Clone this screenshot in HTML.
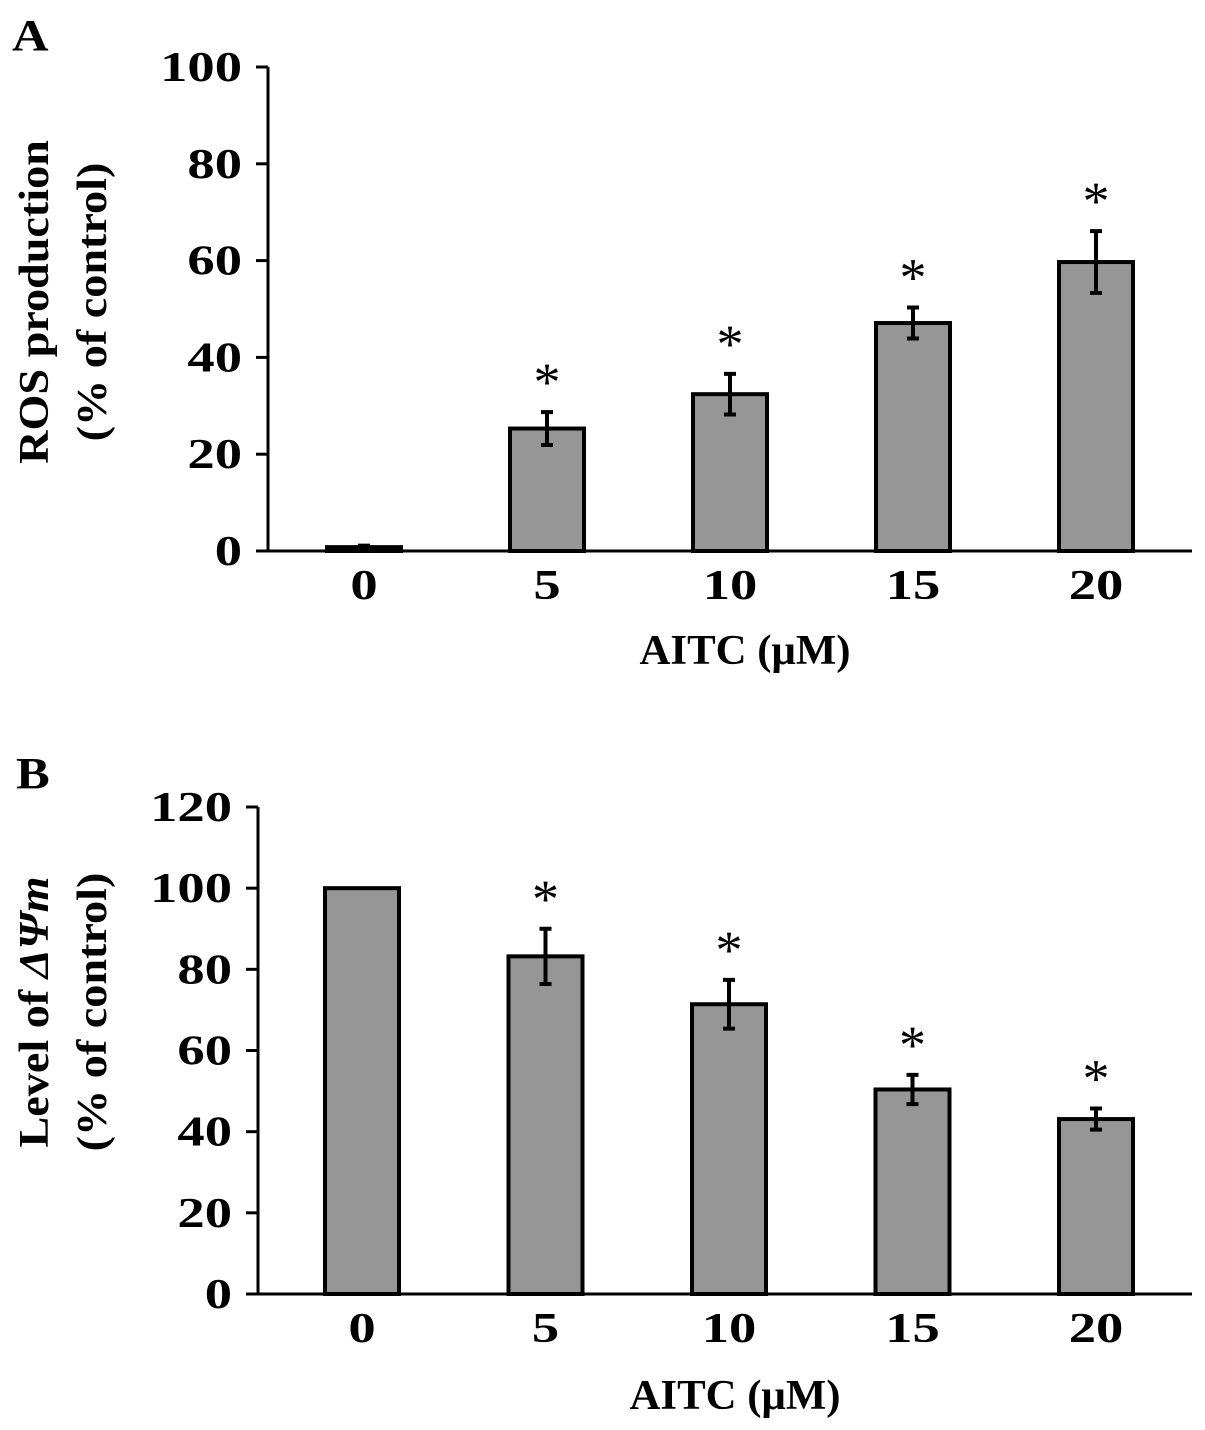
<!DOCTYPE html>
<html><head><meta charset="utf-8"><style>
html,body{margin:0;padding:0;background:#fff;}
svg{display:block;font-family:"Liberation Serif",serif;font-weight:bold;}
</style></head><body>
<svg id="fig" width="1205" height="1430" viewBox="0 0 1205 1430" xmlns="http://www.w3.org/2000/svg"></svg>
<script>
const categories = ["0","5","10","15","20"];
const rosValues = [0.8, 25.3, 32.4, 47.1, 59.7];
const rosErrors = [0.3, 3.4, 4.2, 3.2, 6.4];
const rosStars = [false, true, true, true, true];
const rosTicks = [0,20,40,60,80,100];
const psiValues = [100, 83.2, 71.4, 50.4, 43.1];
const psiErrors = [0, 6.8, 6.0, 3.6, 2.6];
const psiStars = [false, true, true, true, true];
const psiTicks = [0,20,40,60,80,100,120];

const svg = document.getElementById('fig');
const NS = 'http://www.w3.org/2000/svg';
function mk(tag, attrs, text){
  const e = document.createElementNS(NS, tag);
  for (const k in attrs) e.setAttribute(k, attrs[k]);
  if (text !== undefined) e.textContent = text;
  svg.appendChild(e);
  return e;
}

function panel(cfg){
  const yS = v => cfg.y0 - (v / cfg.yMax) * (cfg.y0 - cfg.yTop);
  const xS = i => cfg.xFirst + i * cfg.xStep;
  let e = mk('line',{x1:cfg.ax,y1:cfg.yTop,x2:cfg.ax,y2:cfg.y0,stroke:'#000','stroke-width':3});
  
  
  e = mk('line',{x1:cfg.ax,y1:cfg.y0,x2:1192,y2:cfg.y0,stroke:'#000','stroke-width':3});
  
  
  cfg.ticks.forEach(t => {
    const y = yS(t);
    let l = mk('line',{x1:cfg.ax-12,y1:y,x2:cfg.ax,y2:y,stroke:'#000','stroke-width':3});
    
    
    let tx = mk('text',{x:0,y:0,'text-anchor':'end','font-size':42,transform:`translate(${cfg.ax-26},${y+14}) scale(1.3,1)`},String(t));
    
    
  });
  cfg.values.forEach((v,i) => {
    const cx = xS(i), w = 74;
    let b = mk('rect',{x:cx-w/2,y:yS(v),width:w,height:cfg.y0-yS(v),fill:'#969696',stroke:'#000','stroke-width':4});
    
    
    const er = cfg.errors[i];
    if (er > 0) {
      const t = yS(v+er), bt = yS(v-er);
      let g = mk('path',{d:`M${cx},${t}V${bt}M${cx-6},${t}H${cx+6}M${cx-6},${bt}H${cx+6}`,stroke:'#000','stroke-width':4,fill:'none'});
      
      
    }
    if (cfg.stars[i]) {
      let s = mk('text',{x:cx,y:yS(v+er)-12,'text-anchor':'middle','font-size':54,'font-weight':'normal'},'*');
      
      
    }
    let xl = mk('text',{x:0,y:0,'text-anchor':'middle','font-size':42,transform:`translate(${cx},${cfg.y0+48}) scale(1.3,1)`},categories[i]);
    
    
  });
}

panel({id:'panel-a', ax:268, y0:551, yTop:67, yMax:100, xFirst:364, xStep:183, values:rosValues, errors:rosErrors, stars:rosStars, ticks:rosTicks});
panel({id:'panel-b', ax:258, y0:1294, yTop:807, yMax:120, xFirst:362, xStep:183.5, values:psiValues, errors:psiErrors, stars:psiStars, ticks:psiTicks});
</script>
<svg style="position:absolute;left:0;top:0" width="1205" height="1430">
<text x="12" y="50" font-size="44" transform="translate(12,50) scale(1.15,1) translate(-12,-50)">A</text>
<text x="16" y="788" font-size="44" transform="translate(16,788) scale(1.15,1) translate(-16,-788)">B</text>
<text x="0" y="0" text-anchor="middle" font-size="42" transform="translate(745,664) scale(1.02,1)">AITC (μM)</text>
<text x="0" y="0" text-anchor="middle" font-size="42" transform="translate(735,1409) scale(1.02,1)">AITC  (μM)</text>
<g transform="translate(48,302) rotate(-90) scale(1.1,1)">
<text x="0" y="0" text-anchor="middle" font-size="42">ROS production</text>
<text x="0" y="58" text-anchor="middle" font-size="42">(% of control)</text>
</g>
<g transform="translate(48,1012) rotate(-90) scale(1.1,1)">
<text x="0" y="0" text-anchor="middle" font-size="42">Level of <tspan font-style="italic">ΔΨm</tspan></text>
<text x="0" y="58" text-anchor="middle" font-size="42">(% of control)</text>
</g>
</svg>
</body></html>
